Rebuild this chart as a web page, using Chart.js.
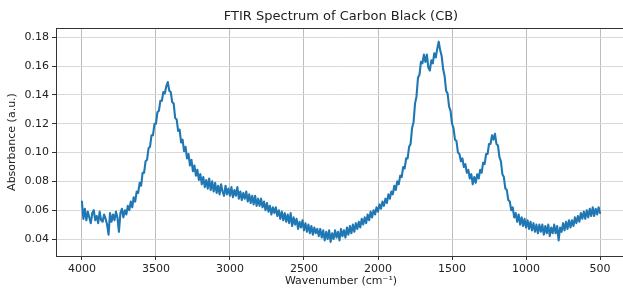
<!DOCTYPE html>
<html>
<head>
<meta charset="utf-8">
<script src="https://cdn.jsdelivr.net/npm/chart.js@4"></script>
<style>
html,body{margin:0;padding:0;background:#fff;overflow:hidden;}
#wrap{width:623px;height:288px;overflow:hidden;}
</style>
</head>
<body>
<div id="wrap"><canvas id="c" width="626" height="288"></canvas></div>
<script>
const wavenumbers = [
4000,3990,3980,3970,3960,3950,3940,3930,3920,3910,
3900,3890,3880,3870,3860,3850,3840,3830,3820,3810,
3800,3790,3780,3770,3760,3750,3740,3730,3720,3710,
3700,3690,3680,3670,3660,3650,3640,3630,3620,3610,
3600,3590,3580,3570,3560,3550,3540,3530,3520,3510,
3500,3490,3480,3470,3460,3450,3440,3430,3420,3410,
3400,3390,3380,3370,3360,3350,3340,3330,3320,3310,
3300,3290,3280,3270,3260,3250,3240,3230,3220,3210,
3200,3190,3180,3170,3160,3150,3140,3130,3120,3110,
3100,3090,3080,3070,3060,3050,3040,3030,3020,3010,
3000,2990,2980,2970,2960,2950,2940,2930,2920,2910,
2900,2890,2880,2870,2860,2850,2840,2830,2820,2810,
2800,2790,2780,2770,2760,2750,2740,2730,2720,2710,
2700,2690,2680,2670,2660,2650,2640,2630,2620,2610,
2600,2590,2580,2570,2560,2550,2540,2530,2520,2510,
2500,2490,2480,2470,2460,2450,2440,2430,2420,2410,
2400,2390,2380,2370,2360,2350,2340,2330,2320,2310,
2300,2290,2280,2270,2260,2250,2240,2230,2220,2210,
2200,2190,2180,2170,2160,2150,2140,2130,2120,2110,
2100,2090,2080,2070,2060,2050,2040,2030,2020,2010,
2000,1990,1980,1970,1960,1950,1940,1930,1920,1910,
1900,1890,1880,1870,1860,1850,1840,1830,1820,1810,
1800,1790,1780,1770,1760,1750,1740,1730,1720,1710,
1700,1690,1680,1670,1660,1650,1640,1630,1620,1610,
1600,1590,1580,1570,1560,1550,1540,1530,1520,1510,
1500,1490,1480,1470,1460,1450,1440,1430,1420,1410,
1400,1390,1380,1370,1360,1350,1340,1330,1320,1310,
1300,1290,1280,1270,1260,1250,1240,1230,1220,1210,
1200,1190,1180,1170,1160,1150,1140,1130,1120,1110,
1100,1090,1080,1070,1060,1050,1040,1030,1020,1010,
1000,990,980,970,960,950,940,930,920,910,
900,890,880,870,860,850,840,830,820,810,
800,790,780,770,760,750,740,730,720,710,
700,690,680,670,660,650,640,630,620,610,
600,590,580,570,560,550,540,530,520,510,
500];

const absorbance = [
0.066,0.054,0.061,0.053,0.059,0.055,0.051,0.058,0.060,0.053,
0.056,0.051,0.059,0.053,0.052,0.057,0.054,0.050,0.043,0.058,
0.052,0.057,0.053,0.059,0.055,0.045,0.058,0.061,0.055,0.060,
0.057,0.063,0.060,0.066,0.062,0.069,0.066,0.073,0.072,0.079,
0.077,0.086,0.086,0.094,0.095,0.103,0.104,0.112,0.112,0.120,
0.120,0.128,0.129,0.136,0.136,0.142,0.141,0.146,0.149,0.143,
0.142,0.135,0.134,0.124,0.123,0.115,0.116,0.107,0.109,0.101,
0.104,0.096,0.099,0.091,0.095,0.087,0.091,0.084,0.088,0.081,
0.085,0.078,0.083,0.076,0.081,0.075,0.082,0.074,0.080,0.073,
0.079,0.072,0.077,0.071,0.078,0.073,0.070,0.077,0.071,0.075,
0.070,0.076,0.069,0.074,0.070,0.076,0.068,0.073,0.067,0.072,
0.068,0.073,0.066,0.071,0.065,0.070,0.064,0.070,0.063,0.068,
0.063,0.068,0.062,0.066,0.060,0.065,0.059,0.063,0.057,0.062,
0.058,0.062,0.056,0.060,0.054,0.059,0.053,0.058,0.052,0.057,
0.051,0.058,0.049,0.055,0.050,0.054,0.047,0.052,0.048,0.053,
0.046,0.051,0.045,0.050,0.044,0.049,0.043,0.048,0.044,0.047,
0.042,0.047,0.041,0.046,0.039,0.045,0.040,0.046,0.038,0.044,
0.040,0.046,0.041,0.045,0.039,0.047,0.042,0.046,0.041,0.048,
0.043,0.049,0.044,0.050,0.045,0.051,0.047,0.052,0.048,0.054,
0.050,0.055,0.051,0.057,0.053,0.059,0.055,0.060,0.057,0.062,
0.059,0.064,0.061,0.066,0.063,0.068,0.065,0.071,0.068,0.073,
0.071,0.077,0.074,0.080,0.078,0.084,0.083,0.090,0.089,0.096,
0.096,0.104,0.106,0.117,0.121,0.134,0.139,0.152,0.154,0.163,
0.162,0.168,0.163,0.168,0.159,0.157,0.164,0.162,0.169,0.166,
0.172,0.177,0.171,0.167,0.158,0.153,0.143,0.141,0.132,0.129,
0.120,0.117,0.109,0.108,0.100,0.099,0.094,0.096,0.090,0.092,
0.086,0.088,0.082,0.085,0.078,0.083,0.079,0.085,0.082,0.088,
0.086,0.093,0.092,0.099,0.099,0.106,0.106,0.112,0.109,0.113,
0.106,0.105,0.097,0.094,0.085,0.083,0.075,0.074,0.067,0.066,
0.060,0.062,0.055,0.058,0.052,0.057,0.050,0.055,0.049,0.054,
0.048,0.053,0.047,0.052,0.046,0.051,0.045,0.050,0.044,0.050,
0.045,0.050,0.043,0.049,0.044,0.050,0.042,0.048,0.044,0.050,
0.044,0.049,0.039,0.048,0.045,0.051,0.046,0.052,0.047,0.053,
0.048,0.053,0.049,0.055,0.051,0.056,0.052,0.058,0.054,0.059,
0.054,0.060,0.055,0.061,0.056,0.062,0.056,0.061,0.057,0.062,
0.058];

const xTicks = [4000,3500,3000,2500,2000,1500,1000,500];
const yTicks = [0.04,0.06,0.08,0.10,0.12,0.14,0.16,0.18];

const points = wavenumbers.map((w,i)=>({x:w,y:absorbance[i]}));

const frame = {
  id:'frame',
  afterDatasetsDraw(chart){
    const a = chart.chartArea, ctx = chart.ctx;
    ctx.save();
    ctx.strokeStyle = '#333';
    ctx.lineWidth = 1;
    ctx.strokeRect(Math.round(a.left)+0.5, Math.round(a.top)+0.5, Math.round(a.right-a.left), Math.round(a.bottom-a.top));
    ctx.restore();
  }
};

const font = {family:'DejaVu Sans', size:11};

new Chart(document.getElementById('c'), {
  type:'line',
  data:{datasets:[{
    data:points,
    borderColor:'#1f77b4',
    borderWidth:2.1,
    borderJoinStyle:'round',
    borderCapStyle:'round',
    pointRadius:0,
    tension:0,
    fill:false
  }]},
  options:{
    responsive:false,
    animation:false,
    devicePixelRatio:1,
    layout:{padding:0},
    plugins:{
      legend:{display:false},
      tooltip:{enabled:false},
      title:{
        display:true,
        text:'FTIR Spectrum of Carbon Black (CB)',
        fullSize:false,
        color:'#222',
        font:{family:'DejaVu Sans', size:13, weight:'normal'},
        padding:{top:9,bottom:3.4}
      }
    },
    scales:{
      x:{
        type:'linear',
        reverse:true,
        min:325,
        max:4175,
        afterFit(s){ s.height = 32; },
        afterBuildTicks(s){ s.ticks = xTicks.map(v=>({value:v})); },
        ticks:{font:font, color:'#222', padding:3, maxRotation:0, autoSkip:false, callback:v=>String(v)},
        grid:{color:'#bdbdbd', lineWidth:1, tickLength:4, tickColor:'#333'},
        border:{color:'#333', width:1},
        title:{display:true, text:'Wavenumber (cm⁻¹)', font:font, color:'#222', padding:{top:0,bottom:0}}
      },
      y:{
        type:'linear',
        min:0.0282,
        max:0.1865,
        afterFit(s){ s.width = 56; },
        afterBuildTicks(s){ s.ticks = yTicks.map(v=>({value:v})); },
        ticks:{font:font, color:'#222', padding:3, autoSkip:false, callback:v=>v.toFixed(2)},
        grid:{color:'#d9d9d9', lineWidth:1, tickLength:4, tickColor:'#333'},
        border:{color:'#333', width:1},
        title:{display:true, text:'Absorbance (a.u.)', font:font, color:'#222', padding:{top:6,bottom:0}}
      }
    }
  },
  plugins:[frame]
});
</script>
</body>
</html>
